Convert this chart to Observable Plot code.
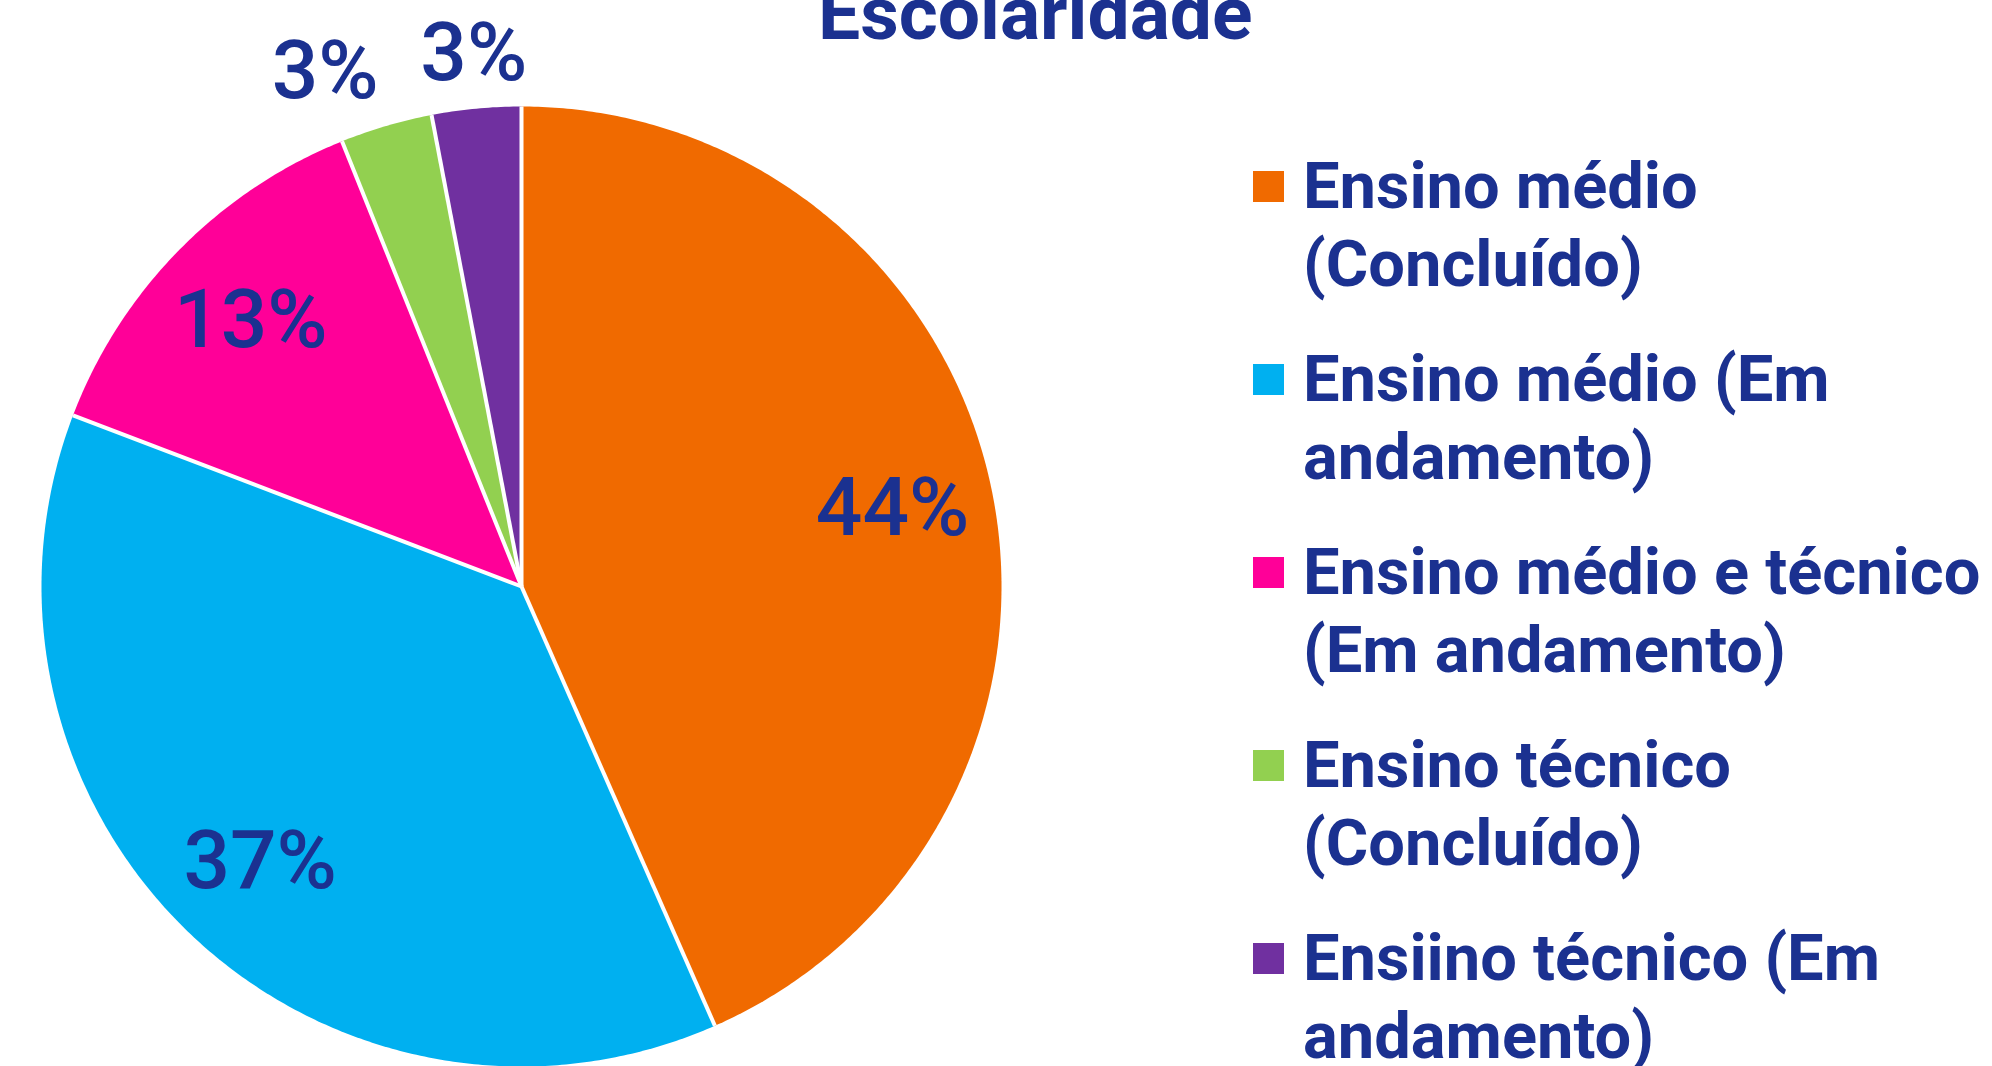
<!DOCTYPE html>
<html>
<head>
<meta charset="utf-8">
<script src="https://cdn.jsdelivr.net/npm/d3@7"></script>
<script src="https://cdn.jsdelivr.net/npm/@observablehq/plot@0.6"></script>
<style>
  html, body { margin: 0; padding: 0; background: #ffffff; }
  #wrap { position: relative; width: 1992px; height: 1066px; overflow: hidden;
          font-family: Roboto, "Noto Sans", sans-serif; color: #1B3190; }
  #chart { position: absolute; left: 0; top: 0; }
  #title { position: absolute; left: 818px; top: -24px; font-size: 75px; font-weight: 700;
           line-height: 1; white-space: nowrap; }
  #legend { position: absolute; left: 1253px; top: 148px; }
  .item { display: flex; align-items: flex-start; height: 193px; }
  .sw { width: 31px; height: 31px; margin-top: 23px; flex: none; }
  .lbl { margin-left: 19px; width: 700px; font-size: 65px; font-weight: 700; line-height: 77.5px; }
</style>
</head>
<body>
<div id="wrap">
  <div id="chart"></div>
  <div id="title"></div>
  <div id="legend"></div>
</div>
<script>
const titleText = "Escolaridade";
const categories = [
  "Ensino médio (Concluído)",
  "Ensino médio (Em andamento)",
  "Ensino médio e técnico (Em andamento)",
  "Ensino técnico (Concluído)",
  "Ensiino técnico (Em andamento)"
];
const values = [43.4, 37.4, 13.1, 3.1, 3.0];
// percentage labels as printed on the chart
const labels = ["44%", "37%", "13%", "3%", "3%"];
const colors = ["#F06A00", "#00B0F0", "#FF0098", "#92D050", "#7030A0"];
const textColor = "#1B3190";

const total = d3.sum(values);
let acc = 0;
const slices = values.map((v, i) => {
  const a0 = acc / total * 2 * Math.PI;
  acc += v;
  const a1 = acc / total * 2 * Math.PI;
  return {category: categories[i], value: v, label: labels[i], a0, a1, mid: (a0 + a1) / 2};
});

// slice outlines (angle measured clockwise from 12 o'clock)
const polyRows = slices.flatMap(s => {
  const n = Math.max(2, Math.ceil((s.a1 - s.a0) / (Math.PI / 360)));
  const pts = [{category: s.category, x: 0, y: 0}];
  for (let k = 0; k <= n; k++) {
    const a = s.a0 + (s.a1 - s.a0) * k / n;
    pts.push({category: s.category, x: Math.sin(a), y: Math.cos(a)});
  }
  pts.push({category: s.category, x: 0, y: 0});
  return pts;
});
const seps = slices.map(s => ({x1: 0, y1: 0, x2: Math.sin(s.a0), y2: Math.cos(s.a0)}));
const inside = slices.filter(s => s.value / total >= 0.05)
  .map(s => ({label: s.label, x: 0.79 * Math.sin(s.mid), y: 0.79 * Math.cos(s.mid)}));
const outside = slices.filter(s => s.value / total < 0.05)
  .map(s => ({label: s.label, x: 1.055 * Math.sin(s.mid), y: 1.055 * Math.cos(s.mid),
              side: Math.sin(s.mid) < -0.2 ? "end" : Math.sin(s.mid) > 0.2 ? "start" : "middle"}));

const textStyle = {fontSize: 82, fontFamily: "Roboto", fontWeight: 500, fill: textColor};

const chart = Plot.plot({
  width: 1992,
  height: 1066,
  margin: 0,
  style: {background: "transparent", overflow: "visible"},
  x: {domain: [-1, 1], range: [41, 1001], axis: null},
  y: {domain: [-1, 1], range: [1066, 106], axis: null},
  color: {domain: categories, range: colors},
  marks: [
    Plot.line(polyRows, {x: "x", y: "y", z: "category", fill: "category", stroke: "none", curve: "linear"}),
    Plot.link(seps, {x1: "x1", y1: "y1", x2: "x2", y2: "y2", stroke: "white", strokeWidth: 4}),
    Plot.text(inside, {x: "x", y: "y", text: "label", textAnchor: "middle", lineAnchor: "middle", ...textStyle}),
    ...["end", "middle", "start"].map(anchor =>
      Plot.text(outside.filter(d => d.side === anchor),
        {x: "x", y: "y", text: "label", textAnchor: anchor, lineAnchor: "middle", dy: -29, ...textStyle}))
  ]
});
document.getElementById("chart").appendChild(chart);

document.getElementById("title").textContent = titleText;
const legend = document.getElementById("legend");
categories.forEach((c, i) => {
  const item = document.createElement("div");
  item.className = "item";
  const sw = document.createElement("div");
  sw.className = "sw";
  sw.style.background = colors[i];
  const lbl = document.createElement("div");
  lbl.className = "lbl";
  lbl.textContent = c;
  item.appendChild(sw);
  item.appendChild(lbl);
  legend.appendChild(item);
});
</script>
</body>
</html>
